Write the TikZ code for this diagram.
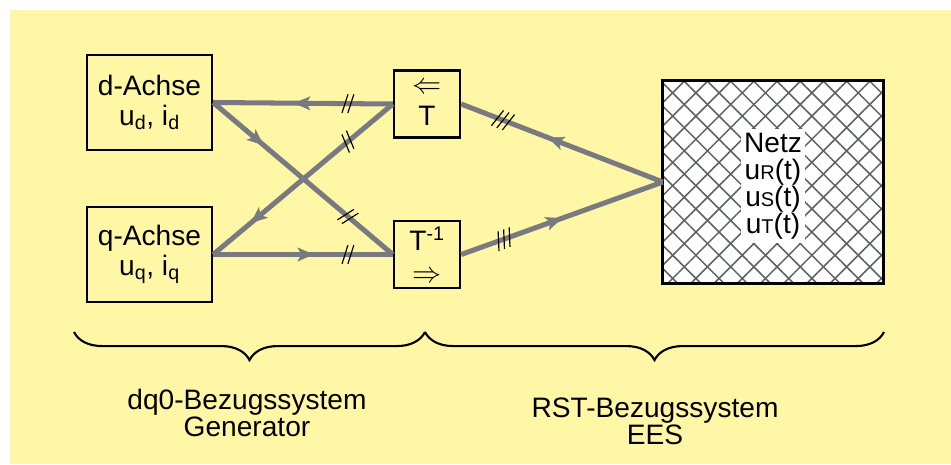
\documentclass[tikz,border=0pt]{standalone}
\usepackage{fontspec}
\setmainfont{Liberation Sans}
\usetikzlibrary{arrows.meta,decorations.markings,decorations.pathreplacing,patterns.meta}
\definecolor{bgyellow}{RGB}{255,247,166}
\definecolor{wiregray}{RGB}{120,122,128}
\definecolor{meshgray}{RGB}{95,97,102}
\tikzset{
	box/.style={draw, line width=2pt, align=center, font=\fontsize{24}{25}\selectfont},
	axisbox/.style={box, minimum width=3.75cm, minimum height=2.85cm, inner sep=0pt},
	trafo/.style={box, minimum width=1.98cm, minimum height=2.01cm, inner sep=0pt, font=\fontsize{24}{27}\selectfont},
	netzbox/.style={minimum width=6.6cm, minimum height=6.09cm, fill=white,
		postaction={pattern={Lines[angle=45,distance=14pt,line width=1.3pt]}, pattern color=meshgray},
		postaction={pattern={Lines[angle=-45,distance=14pt,line width=1.3pt]}, pattern color=meshgray}},
	wire/.style={color=wiregray, draw, line width=4.3pt},
	arrowat/.style={postaction={decorate, decoration={markings,
		mark=at position #1 with {\pgfsetlinewidth{0.4pt}\arrow{Stealth[length=14pt,width=12pt,inset=3.5pt]}}}}},
	twoticks/.style={postaction={decorate, decoration={markings,
		mark=at position #1 with {\draw[black,line width=1pt] (-5pt,-8pt) -- (0pt,8pt) (0pt,-8pt) -- (5pt,8pt);}}}},
	threeticks/.style={postaction={decorate, decoration={markings,
		mark=at position #1 with {\draw[black,line width=1pt] (-7pt,-8pt) -- (-2pt,8pt) (-2pt,-8pt) -- (3pt,8pt) (3pt,-8pt) -- (8pt,8pt);}}}},
	curly/.style={decorate, decoration={brace, mirror, amplitude=24pt}, line width=1.8pt},
	caption/.style={align=center, font=\fontsize{24}{23}\selectfont},
}

\begin{document}
\begin{tikzpicture}[x=0.03cm, y=-0.03cm]
	\useasboundingbox (0,0) rectangle (951,464);
	\fill [bgyellow] (10,10) rectangle (951,464);

	% generator axes and transformations
	\node [axisbox] (d) at (149.5,102.5) {d-Achse\\u\textsubscript{d}, i\textsubscript{d}};
	\node [axisbox] (q) at (149.5,254.5) {q-Achse\\u\textsubscript{q}, i\textsubscript{q}};
	\node [trafo] (T) at (427,104) {$\Leftarrow$\\T};
	\node [trafo] (Ti) at (427,254.5) {T\textsuperscript{-1}\\$\Rightarrow$};

	% grid
	\node [netzbox] (netz) at (773,182) {};
	\node [fill=white, inner sep=3pt, align=center, font=\fontsize{24}{23}\selectfont] (netzlbl) at (773,186)
		{Netz\\u{\fontsize{17}{17}\selectfont R}(t)\\u{\fontsize{17}{17}\selectfont S}(t)\\u{\fontsize{17}{17}\selectfont T}(t)};
	\draw [line width=2.5pt] (netz.south west) rectangle (netz.north east);

	% signal paths
	\draw [wire, arrowat=0.55, twoticks=0.25] (T.west) -- (d.east);
	\draw [wire, arrowat=0.28, twoticks=0.75] (d.east) -- (Ti.west);
	\draw [wire, arrowat=0.79, twoticks=0.25] (T.west) -- (q.east);
	\draw [wire, arrowat=0.56, twoticks=0.75] (q.east) -- (Ti.west);
	\draw [wire, arrowat=0.57, threeticks=0.79] (netz.west) -- (T.east);
	\draw [wire, arrowat=0.50, threeticks=0.21] (Ti.east) -- (netz.west);

	% reference frames
	\draw [curly] (74,332) -- (425,332);
	\draw [curly] (425,332) -- (884,332);
	\node [caption] (dq) at (247,413) {dq0-Bezugssystem\\Generator};
	\node [caption] (rst) at (655,421) {RST-Bezugssystem\\EES};
\end{tikzpicture}
\end{document}
